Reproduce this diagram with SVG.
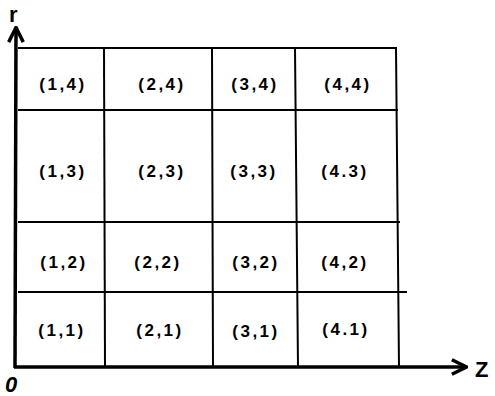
<svg xmlns="http://www.w3.org/2000/svg" width="495" height="396" viewBox="0 0 495 396">
<defs>
<style>
.grid{stroke:#000;stroke-width:2;fill:none;stroke-linecap:square}
.axis{stroke:#000;stroke-width:3.5;fill:none}
.lbl{font-family:"Liberation Sans",Arial,sans-serif;font-weight:bold;font-size:17px;letter-spacing:2.5px;text-anchor:middle;fill:#000}
.ax{font-family:"Liberation Sans",Arial,sans-serif;font-weight:bold;font-size:22px;fill:#000}
</style>
<marker id="ah" viewBox="0 0 12 12" refX="10" refY="6" markerWidth="5" markerHeight="5" markerUnits="strokeWidth" orient="auto">
<path d="M1,1 L11,6 L1,11" fill="none" stroke="#000" stroke-width="2.4"/>
</marker>
</defs>
<rect width="495" height="396" fill="#fff"/>
<g id="connectors">
<line class="grid" x1="19" y1="48" x2="396" y2="48"/>
<line class="grid" x1="19" y1="110" x2="397" y2="110"/>
<line class="grid" x1="19" y1="222" x2="399" y2="222"/>
<line class="grid" x1="19" y1="292" x2="406" y2="292"/>
<line class="grid" x1="104" y1="48" x2="105" y2="367"/>
<line class="grid" x1="212" y1="48" x2="213" y2="367"/>
<line class="grid" x1="295" y1="48" x2="298" y2="367"/>
<line class="grid" x1="396" y1="48" x2="399" y2="367"/>
<line class="axis" x1="15" y1="368" x2="16" y2="29" marker-end="url(#ah)"/>
<line class="axis" x1="14" y1="367" x2="465" y2="367" marker-end="url(#ah)"/>
</g>
<g id="axis-labels">
<text class="ax" x="9" y="22">r</text>
<text class="ax" x="475" y="377">Z</text>
<text class="ax" x="5" y="392" font-size="15" font-style="italic">0</text>
</g>
<g id="cell-1-4"><text class="lbl" x="63" y="90">(1,4)</text></g>
<g id="cell-2-4"><text class="lbl" x="162" y="90">(2,4)</text></g>
<g id="cell-3-4"><text class="lbl" x="255" y="90">(3,4)</text></g>
<g id="cell-4-4"><text class="lbl" x="348" y="90">(4,4)</text></g>
<g id="cell-1-3"><text class="lbl" x="63" y="177">(1,3)</text></g>
<g id="cell-2-3"><text class="lbl" x="162" y="177">(2,3)</text></g>
<g id="cell-3-3"><text class="lbl" x="254" y="177">(3,3)</text></g>
<g id="cell-4-3"><text class="lbl" x="345" y="177">(4.3)</text></g>
<g id="cell-1-2"><text class="lbl" x="64" y="268">(1,2)</text></g>
<g id="cell-2-2"><text class="lbl" x="158" y="268">(2,2)</text></g>
<g id="cell-3-2"><text class="lbl" x="256" y="268">(3,2)</text></g>
<g id="cell-4-2"><text class="lbl" x="345" y="268">(4,2)</text></g>
<g id="cell-1-1"><text class="lbl" x="62" y="336">(1,1)</text></g>
<g id="cell-2-1"><text class="lbl" x="160" y="336">(2,1)</text></g>
<g id="cell-3-1"><text class="lbl" x="256" y="337">(3,1)</text></g>
<g id="cell-4-1"><text class="lbl" x="346" y="335">(4.1)</text></g>
</svg>
